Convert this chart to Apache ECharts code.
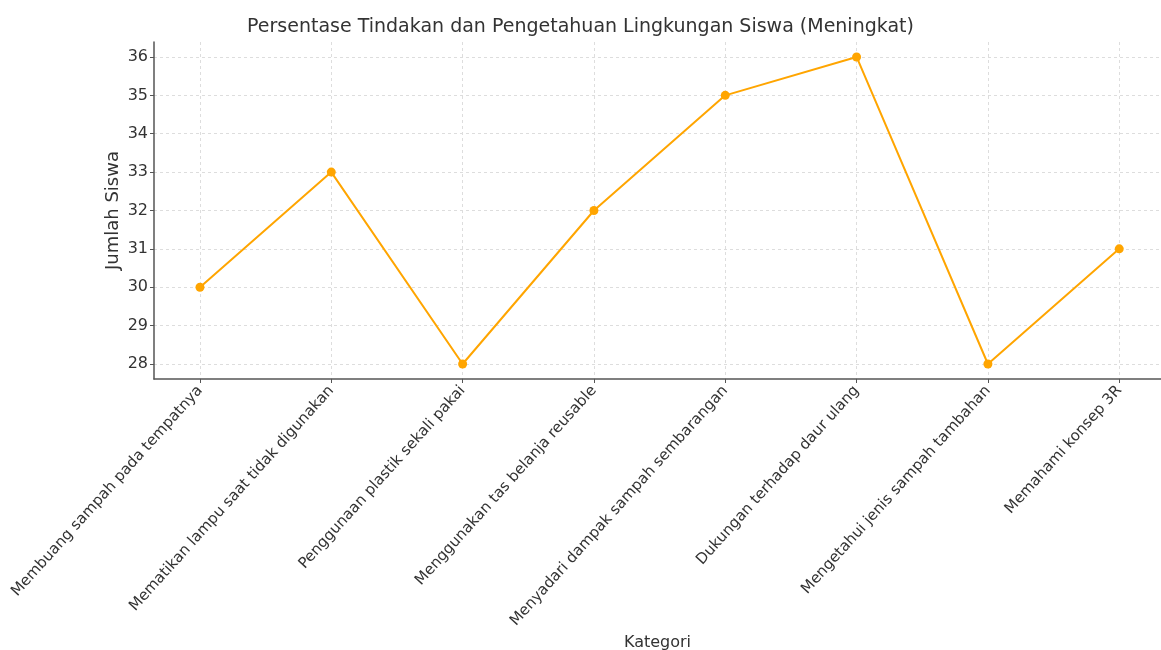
<!DOCTYPE html>
<html><head><meta charset="utf-8">
<script src="https://cdn.jsdelivr.net/npm/echarts@6/dist/echarts.min.js"></script>
<style>html,body{margin:0;padding:0;background:#fff}#c{width:1161px;height:650px}</style>
</head><body><div id="c"></div>
<script>
const categories = [
  "Membuang sampah pada tempatnya",
  "Mematikan lampu saat tidak digunakan",
  "Penggunaan plastik sekali pakai",
  "Menggunakan tas belanja reusable",
  "Menyadari dampak sampah sembarangan",
  "Dukungan terhadap daur ulang",
  "Mengetahui jenis sampah tambahan",
  "Memahami konsep 3R"
];
const values = [30, 33, 28, 32, 35, 36, 28, 31];
const yTicks = [28, 29, 30, 31, 32, 33, 34, 35, 36];
const titleText = "Persentase Tindakan dan Pengetahuan Lingkungan Siswa (Meningkat)";

const idx = categories.map((_, i) => i);
const chart = echarts.init(document.getElementById('c'));
const font = "DejaVu Sans";
chart.setOption({
  animation: false,
  textStyle: { fontFamily: font },
  title: {
    text: titleText, left: 'center', top: 13,
    textStyle: { fontFamily: font, fontSize: 19, fontWeight: 'normal', color: '#333' }
  },
  grid: { left: 154, right: 0, top: 42, bottom: 271, containLabel: false, outerBoundsMode: 'none' },
  xAxis: {
    type: 'value', min: -0.35, max: 7.318,
    name: 'Kategori', nameLocation: 'middle', nameGap: 256, nameMoveOverlap: false,
    nameTextStyle: { fontSize: 16, color: '#333', fontFamily: font },
    axisLine: { show: true, onZero: false, lineStyle: { color: '#555', width: 1.5 } },
    axisTick: { show: true, customValues: idx, length: 4, inside: false, lineStyle: { color: '#555' } },
    axisLabel: {
      customValues: idx, rotate: 48, fontSize: 15, color: '#333', margin: 9,
      formatter: v => categories[Math.round(v)] || ''
    },
    splitLine: { show: true, lineStyle: { color: '#ddd', type: [3, 3], width: 1 } }
  },
  yAxis: {
    type: 'value', min: 27.609, max: 36.39,
    name: 'Jumlah Siswa', nameLocation: 'middle', nameGap: 32, nameMoveOverlap: false,
    nameTextStyle: { fontSize: 18, color: '#333', fontFamily: font },
    axisLine: { show: true, onZero: false, lineStyle: { color: '#555', width: 1.5 } },
    axisTick: { show: true, customValues: yTicks, length: 4, lineStyle: { color: '#555' } },
    axisLabel: { customValues: yTicks, fontSize: 16, color: '#333', margin: 6 },
    splitLine: { show: true, lineStyle: { color: '#ddd', type: [3, 3], width: 1 } }
  },
  series: [{
    type: 'line',
    data: values.map((v, i) => [idx[i], v]),
    symbol: 'circle', symbolSize: 9,
    itemStyle: { color: '#FFA500' },
    lineStyle: { color: '#FFA500', width: 2 }
  }]
});
</script></body></html>
